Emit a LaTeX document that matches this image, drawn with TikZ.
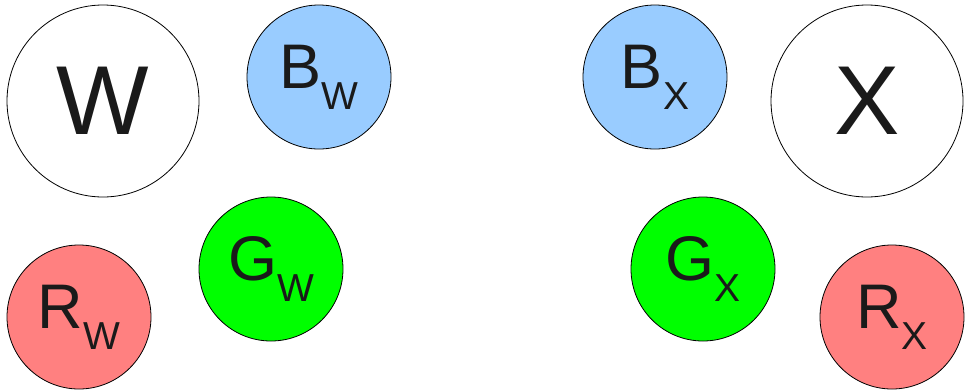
\documentclass[tikz,border=0pt]{standalone}
\usepackage{fontspec}
\setmainfont{Liberation Sans}

\definecolor{bluefill}{HTML}{99CCFF}
\definecolor{greenfill}{HTML}{00FF00}
\definecolor{redfill}{HTML}{FF8080}
\definecolor{inkgray}{HTML}{1A1A1A}

% letter sizes (1pt = 1px of the picture)
\newcommand{\bigletter}[1]{{\fontsize{98}{98}\selectfont #1}}
\newcommand{\subletter}[2]{{\fontsize{63}{63}\selectfont #1\raisebox{-21pt}{\fontsize{39}{39}\selectfont #2}}}

\begin{document}
\begin{tikzpicture}[x=1pt,y=-1pt,
    ball/.style={circle,draw=black,line width=0.8pt,inner sep=0pt,outer sep=0pt,text=inkgray},
    bigball/.style={ball,minimum size=192pt,fill=white},
    smallball/.style={ball,minimum size=144pt}]
  \useasboundingbox (0,0) rectangle (965,389);
  % the two big circles, W on the left and X on the right
  \node[bigball] (W) at (103,101) {\bigletter{W}};
  \node[bigball] (X) at (867,101) {\bigletter{X}};
  % small coloured circles: blue, green and red for each side
  \foreach \name/\x/\y/\col/\main/\sub in {
      Bw/319/77/bluefill/B/W, Gw/271/269/greenfill/G/W, Rw/79/317/redfill/R/W,
      Bx/655/77/bluefill/B/X, Gx/703/269/greenfill/G/X, Rx/892/317/redfill/R/X} {
    \node[smallball,fill=\col] (\name) at (\x,\y) {\subletter{\main}{\sub}};
  }
\end{tikzpicture}
\end{document}
